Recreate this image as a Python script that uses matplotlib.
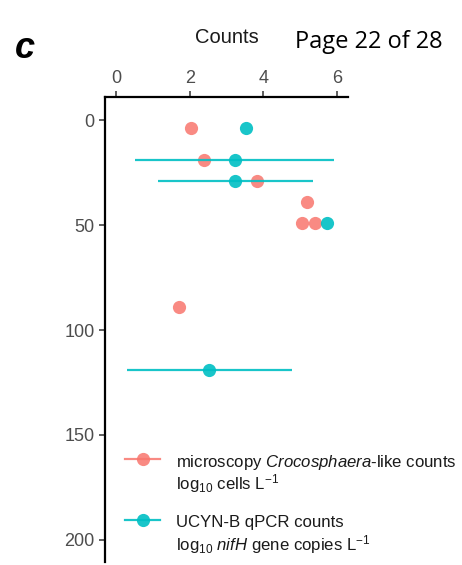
import matplotlib.pyplot as plt
from matplotlib.lines import Line2D

plt.rcParams['font.family'] = ['Liberation Sans', 'DejaVu Sans']
plt.rcParams['mathtext.fontset'] = 'custom'
plt.rcParams['mathtext.rm'] = 'Liberation Sans'
plt.rcParams['mathtext.it'] = 'Liberation Sans:italic'

# microscopy Crocosphaera-like counts (log10 cells L-1)
micro_x = [2.04, 2.40, 3.84, 5.18, 5.04, 5.40, 1.72]
micro_depth = [4, 19, 29, 39, 49, 49, 89]

# UCYN-B qPCR counts (log10 nifH gene copies L-1), with ranges
qpcr_x = [3.52, 3.22, 3.24, 5.72, 2.53]
qpcr_depth = [4, 19, 29, 49, 119]
qpcr_lo = [3.52, 0.52, 1.15, 5.72, 0.30]
qpcr_hi = [3.52, 5.92, 5.34, 5.72, 4.77]

pink = '#F8766D'
teal = '#00BFC4'

W, H = 462, 565
fig = plt.figure(figsize=(W/100, H/100), dpi=100)
ax = fig.add_axes([105/W, 3/H, (348-105)/W, (468-3)/H])

ax.plot(micro_x, micro_depth, 'o', color=pink, ms=9.5, alpha=0.85, mec='none', zorder=2)
xerr = [[x - l for x, l in zip(qpcr_x, qpcr_lo)], [h - x for x, h in zip(qpcr_x, qpcr_hi)]]
ax.errorbar(qpcr_x, qpcr_depth, xerr=xerr, fmt='o', color=teal, ms=9.5, mec='none',
            elinewidth=1.6, capsize=0, alpha=0.9, zorder=3)

ax.set_xlim(-0.3, 6.3)
ax.set_ylim(210.5, -11)
ax.set_xticks([0, 2, 4, 6])
ax.set_yticks([0, 50, 100, 150, 200])
ax.xaxis.tick_top()
ax.xaxis.set_label_position('top')
ax.set_xlabel('Counts', fontsize=14.5, labelpad=19.5, color='#1a1a1a')
ax.tick_params(axis='both', labelsize=13, labelcolor='#4D4D4D', length=4, width=1.1, color='#333333')
ax.tick_params(axis='x', pad=3)
for s in ['right', 'bottom']:
    ax.spines[s].set_visible(False)
for s in ['left', 'top']:
    ax.spines[s].set_linewidth(1.6)

# legend drawn by hand so the key sits on the first text line
keys = [(pink, 0.85, 459,
         'microscopy $\\mathit{Crocosphaera}$-like counts', 'log$_{10}$ cells L$^{-1}$'),
        (teal, 0.9, 520,
         'UCYN-B qPCR counts', 'log$_{10}$ $\\mathit{nifH}$ gene copies L$^{-1}$')]
for col, a, yk, l1, l2 in keys:
    fig.add_artist(Line2D([125/W, 160/W], [1 - yk/H, 1 - yk/H], color=col, lw=1.6, alpha=a,
                          transform=fig.transFigure))
    fig.add_artist(Line2D([142.5/W], [1 - yk/H], color=col, marker='o', ms=9.5, mec='none',
                          alpha=a, transform=fig.transFigure))
    fig.text(176/W, 1 - (yk + 3)/H, l1, fontsize=12.1, va='center', ha='left', color='#1a1a1a')
    fig.text(176/W, 1 - (yk + 25)/H, l2, fontsize=12.1, va='center', ha='left', color='#1a1a1a')

fig.text(25/W, 1 - 48/H, 'c', fontsize=26, fontweight='bold', fontstyle='italic',
         ha='center', va='center')
fig.text(369/W, 1 - 42/H, 'Page 22 of 28', fontsize=17, family='Open Sans',
         ha='center', va='center')

fig.savefig('out.png', dpi=100)
